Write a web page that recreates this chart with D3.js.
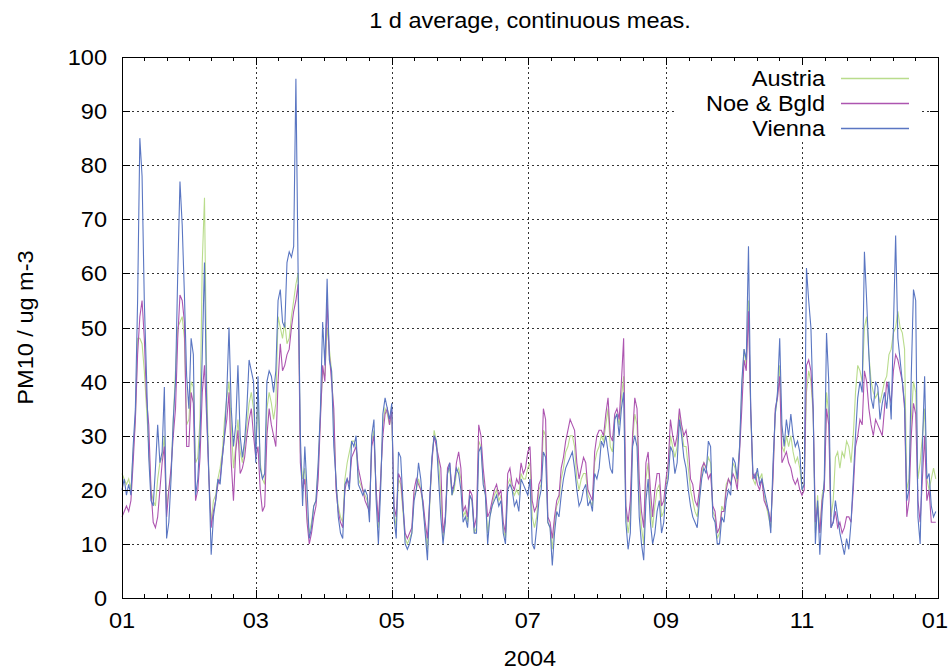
<!DOCTYPE html>
<html>
<head>
<meta charset="utf-8">
<script src="https://cdn.jsdelivr.net/npm/d3@7"></script>
<style>
  html, body { margin: 0; padding: 0; background: #fff; }
  svg { display: block; }
  text { font-family: "Liberation Sans", Arial, sans-serif; fill: #000; }
</style>
</head>
<body>
<svg id="chart" width="949" height="670"></svg>
<script>
// Daily PM10 means, 2004 (ug m-3), one value per day from 1 Jan to 31 Dec
const austria = [
23,22,21,22,20,27,33,48,48,47,42,35,28,20,18,17,22,25,26,30,17,20,23,33,42,50,51,52,48,32,
33,40,39,25,26,33,62,74,40,22,14,18,19,22,24,27,33,37,40,32,24,28,33,27,25,28,32,36,38,35,
28,36,25,22,21,35,38,36,33,36,52,50,48,51,47,48,52,55,58,60,27,22,24,15,12,14,17,18,24,34,
42,41,50,46,42,33,21,17,15,14,22,25,27,29,29,28,22,21,20,19,18,16,29,31,19,13,21,32,35,34,
32,34,16,13,22,21,16,11,10,11,12,19,20,22,20,17,13,9,17,25,31,29,25,19,11,14,23,24,19,20,
23,24,22,15,16,14,19,18,12,13,29,28,22,19,12,15,17,19,20,18,19,13,11,21,22,20,19,20,19,23,
22,22,24,25,15,13,15,20,21,31,30,14,13,9,14,17,18,22,24,27,28,30,30,28,22,20,22,23,23,19,
18,17,25,27,28,30,29,32,35,28,27,33,34,32,37,41,16,12,15,29,34,32,19,13,10,22,25,17,13,17,
20,21,15,16,21,23,30,28,26,28,34,31,28,28,24,20,18,16,15,19,23,25,24,26,25,16,15,11,12,17,
16,21,22,21,25,24,21,28,38,46,43,55,34,22,21,23,22,23,19,17,15,13,23,34,37,43,28,27,30,28,
30,27,25,26,24,20,21,38,42,40,34,12,19,12,19,21,38,34,15,18,26,27,24,27,26,29,28,25,30,38,
43,42,40,50,52,45,40,38,37,38,36,38,40,41,45,46,49,50,53,50,49,46,20,22,33,40,38,22,25,30,
35,22,20,22,24,22
];
const noeBgld = [
15,16,17,16,18,25,33,45,52,55,48,37,32,20,14,13,15,20,25,28,15,20,24,30,35,48,56,55,51,28,
28,38,36,18,20,26,38,43,33,22,13,16,18,21,22,26,30,33,38,25,18,27,31,23,24,26,30,33,35,30,
26,28,20,16,17,30,35,32,30,28,40,47,42,43,45,46,50,53,55,58,25,20,22,14,10,12,15,17,22,33,
43,40,55,45,40,35,20,16,14,13,20,22,21,26,27,28,24,22,20,18,17,16,28,30,20,14,22,30,34,35,
32,35,17,15,23,22,17,12,11,12,13,20,22,21,20,18,14,11,18,25,30,28,26,24,12,15,24,25,20,21,
25,27,24,16,17,15,20,19,13,15,32,30,24,20,15,16,18,20,21,19,20,14,12,23,24,21,20,22,21,25,
23,24,27,28,18,16,17,21,22,35,33,15,14,11,15,18,19,24,26,29,31,33,32,31,25,22,24,26,25,20,
19,18,27,30,31,31,30,34,37,30,29,34,35,33,40,48,17,14,18,30,37,35,22,16,13,25,27,20,15,20,
23,23,17,18,22,25,33,30,28,30,35,32,30,31,28,22,21,18,17,20,24,25,24,22,23,17,16,12,13,16,
16,20,22,21,23,22,20,27,35,44,42,53,35,22,23,21,20,22,18,17,16,14,22,35,37,41,25,26,27,25,
24,22,21,22,20,19,20,43,44,42,35,14,17,12,18,20,35,32,13,14,16,13,14,12,13,15,15,14,20,28,
30,33,32,42,40,35,32,30,33,32,31,30,35,40,38,36,42,45,44,42,40,35,15,18,30,36,34,18,14,22,
30,18,20,14,14,14
];
const vienna = [
20,22,19,21,19,28,35,55,85,78,55,41,26,18,17,24,32,25,27,39,11,14,22,33,40,60,77,69,56,41,
35,48,45,19,22,30,45,62,35,22,8,15,18,22,21,26,30,38,50,35,28,32,43,30,26,29,35,44,42,40,
25,41,24,22,23,40,42,41,38,42,55,57,51,50,62,64,63,65,96,60,30,17,28,20,11,13,17,18,25,35,
51,43,59,44,42,28,22,15,12,11,21,22,20,29,28,30,21,20,19,20,19,14,30,33,18,10,20,34,37,35,
33,36,15,11,27,26,18,10,9,10,12,18,20,25,22,17,12,7,18,26,30,29,22,15,10,14,23,25,19,21,
24,23,20,14,15,13,19,18,12,12,27,28,21,19,10,15,17,18,19,17,18,12,10,20,21,20,17,18,16,22,
21,20,19,22,10,9,13,18,20,27,26,14,13,6,12,16,15,19,22,24,25,26,27,24,20,17,18,20,21,17,
18,16,23,22,24,29,28,30,27,24,23,33,34,30,35,38,14,9,12,28,30,28,15,10,7,18,22,14,10,12,
16,18,12,14,20,22,28,27,23,25,33,30,26,24,20,17,15,14,13,18,22,24,23,29,28,15,14,10,10,15,
14,18,20,19,26,25,22,28,40,46,44,65,35,23,22,24,21,22,20,18,16,12,25,34,38,48,32,28,33,30,
34,30,28,29,27,20,21,61,55,50,35,10,18,8,16,22,49,40,13,14,18,15,12,10,8,11,9,14,22,30,
37,40,38,64,55,45,37,35,40,39,33,36,38,35,40,33,50,67,48,44,40,36,18,20,41,57,55,15,10,28,
41,22,23,17,15,16
];

const seriesNames = ["Austria", "Noe & Bgld", "Vienna"];
const seriesColors = ["#b9dc8c", "#ad55b0", "#5a76c2"];
const seriesData = [austria, noeBgld, vienna];

const yTicks = [0, 10, 20, 30, 40, 50, 60, 70, 80, 90, 100];
const xTickMonths = [0, 2, 4, 6, 8, 10, 12];  // month offsets from Jan 2004

const titleText = "1 d average, continuous meas.";
const xTitle = "2004";
const yTitle = "PM10 / ug m-3";

// ---- layout ----
const W = 949, H = 670;
const L = 122, R = 938, T = 57, B = 598;
const FS = 22, STRETCH = 1.07;

const svg = d3.select("#chart");
const start = new Date(2004, 0, 1), end = new Date(2005, 0, 1);
const days = d3.timeDay.range(start, end);

const x = d3.scaleTime().domain([start, end]).range([L, R]);
const y = d3.scaleLinear().domain([0, 100]).range([B, T]);

const majorDates = xTickMonths.map(m => new Date(2004, m, 1));
const minorDates = [];
for (let i = 0; i < majorDates.length - 1; i++) {
  const a = +majorDates[i], b = +majorDates[i + 1];
  for (let k = 1; k < 6; k++) minorDates.push(new Date(a + (b - a) * k / 6));
}

// text helper: slightly widened sans glyphs
function label(g, px, py, str, anchor, rotate) {
  return g.append("text")
    .attr("transform", `translate(${px},${py})` + (rotate ? ` rotate(${rotate})` : "") + ` scale(${STRETCH},1)`)
    .attr("text-anchor", anchor)
    .style("font-size", FS + "px")
    .text(str);
}

// ---- grid ----
const grid = svg.append("g").attr("stroke", "#333").attr("stroke-width", 1)
  .attr("stroke-dasharray", "2,3").attr("shape-rendering", "crispEdges");
grid.selectAll("line.gy").data(yTicks.filter(v => v > 0 && v < 100)).join("line")
  .attr("x1", L).attr("x2", R)
  .attr("y1", d => Math.round(y(d)) + 0.5).attr("y2", d => Math.round(y(d)) + 0.5);
grid.selectAll("line.gx").data(majorDates.slice(1, -1)).join("line")
  .attr("y1", T).attr("y2", B)
  .attr("x1", d => Math.round(x(d)) + 0.5).attr("x2", d => Math.round(x(d)) + 0.5);

// ---- key background (covers grid) ----
svg.append("rect").attr("x", 676).attr("y", T + 1).attr("width", 243).attr("height", 83)
  .attr("fill", "#fff");

// ---- series ----
const line = d3.line().x((d, i) => x(days[i])).y(d => y(d));
seriesData.forEach((arr, k) => {
  svg.append("path").datum(arr)
    .attr("fill", "none")
    .attr("stroke", seriesColors[k])
    .attr("stroke-width", 1.1)
    .attr("d", line);
});

// ---- key ----
const keyY = [78, 103, 128];
seriesNames.forEach((n, k) => {
  label(svg, 825, keyY[k] + 8, n, "end");
  svg.append("line").attr("x1", 841).attr("x2", 909)
    .attr("y1", keyY[k] + 0.5).attr("y2", keyY[k] + 0.5)
    .attr("stroke", seriesColors[k]).attr("stroke-width", 1.5);
});

// ---- axes: ticks on all four sides, pointing inward ----
const axisStyle = g => {
  g.select(".domain").remove();
  g.selectAll(".tick line").attr("stroke", "#000").attr("shape-rendering", "crispEdges");
  g.selectAll(".tick text").remove();
};
svg.append("g").attr("transform", `translate(0,${B})`)
  .call(d3.axisBottom(x).tickValues(majorDates).tickSize(-8)).call(axisStyle);
svg.append("g").attr("transform", `translate(0,${B})`)
  .call(d3.axisBottom(x).tickValues(minorDates).tickSize(-4)).call(axisStyle);
svg.append("g").attr("transform", `translate(0,${T})`)
  .call(d3.axisTop(x).tickValues(majorDates).tickSize(-8)).call(axisStyle);
svg.append("g").attr("transform", `translate(0,${T})`)
  .call(d3.axisTop(x).tickValues(minorDates).tickSize(-4)).call(axisStyle);
svg.append("g").attr("transform", `translate(${L},0)`)
  .call(d3.axisLeft(y).tickValues(yTicks).tickSize(-8)).call(axisStyle);
svg.append("g").attr("transform", `translate(${R},0)`)
  .call(d3.axisRight(y).tickValues(yTicks).tickSize(-8)).call(axisStyle);

// border
svg.append("rect").attr("x", L + 0.5).attr("y", T + 0.5)
  .attr("width", R - L).attr("height", B - T)
  .attr("fill", "none").attr("stroke", "#000").attr("stroke-width", 1)
  .attr("shape-rendering", "crispEdges");

// tick labels (last one kept inside the canvas)
const fmt = d3.timeFormat("%m");
majorDates.forEach((d, i) => {
  const last = i === majorDates.length - 1;
  label(svg, last ? W - 1 : x(d), 628, fmt(d), last ? "end" : "middle");
});
yTicks.forEach(v => label(svg, 107, y(v) + 8, String(v), "end"));

// titles
label(svg, (L + R) / 2, 28, titleText, "middle");
label(svg, (L + R) / 2, 666, xTitle, "middle");
label(svg, 33, (T + B) / 2, yTitle, "middle", -90);
</script>
</body>
</html>
